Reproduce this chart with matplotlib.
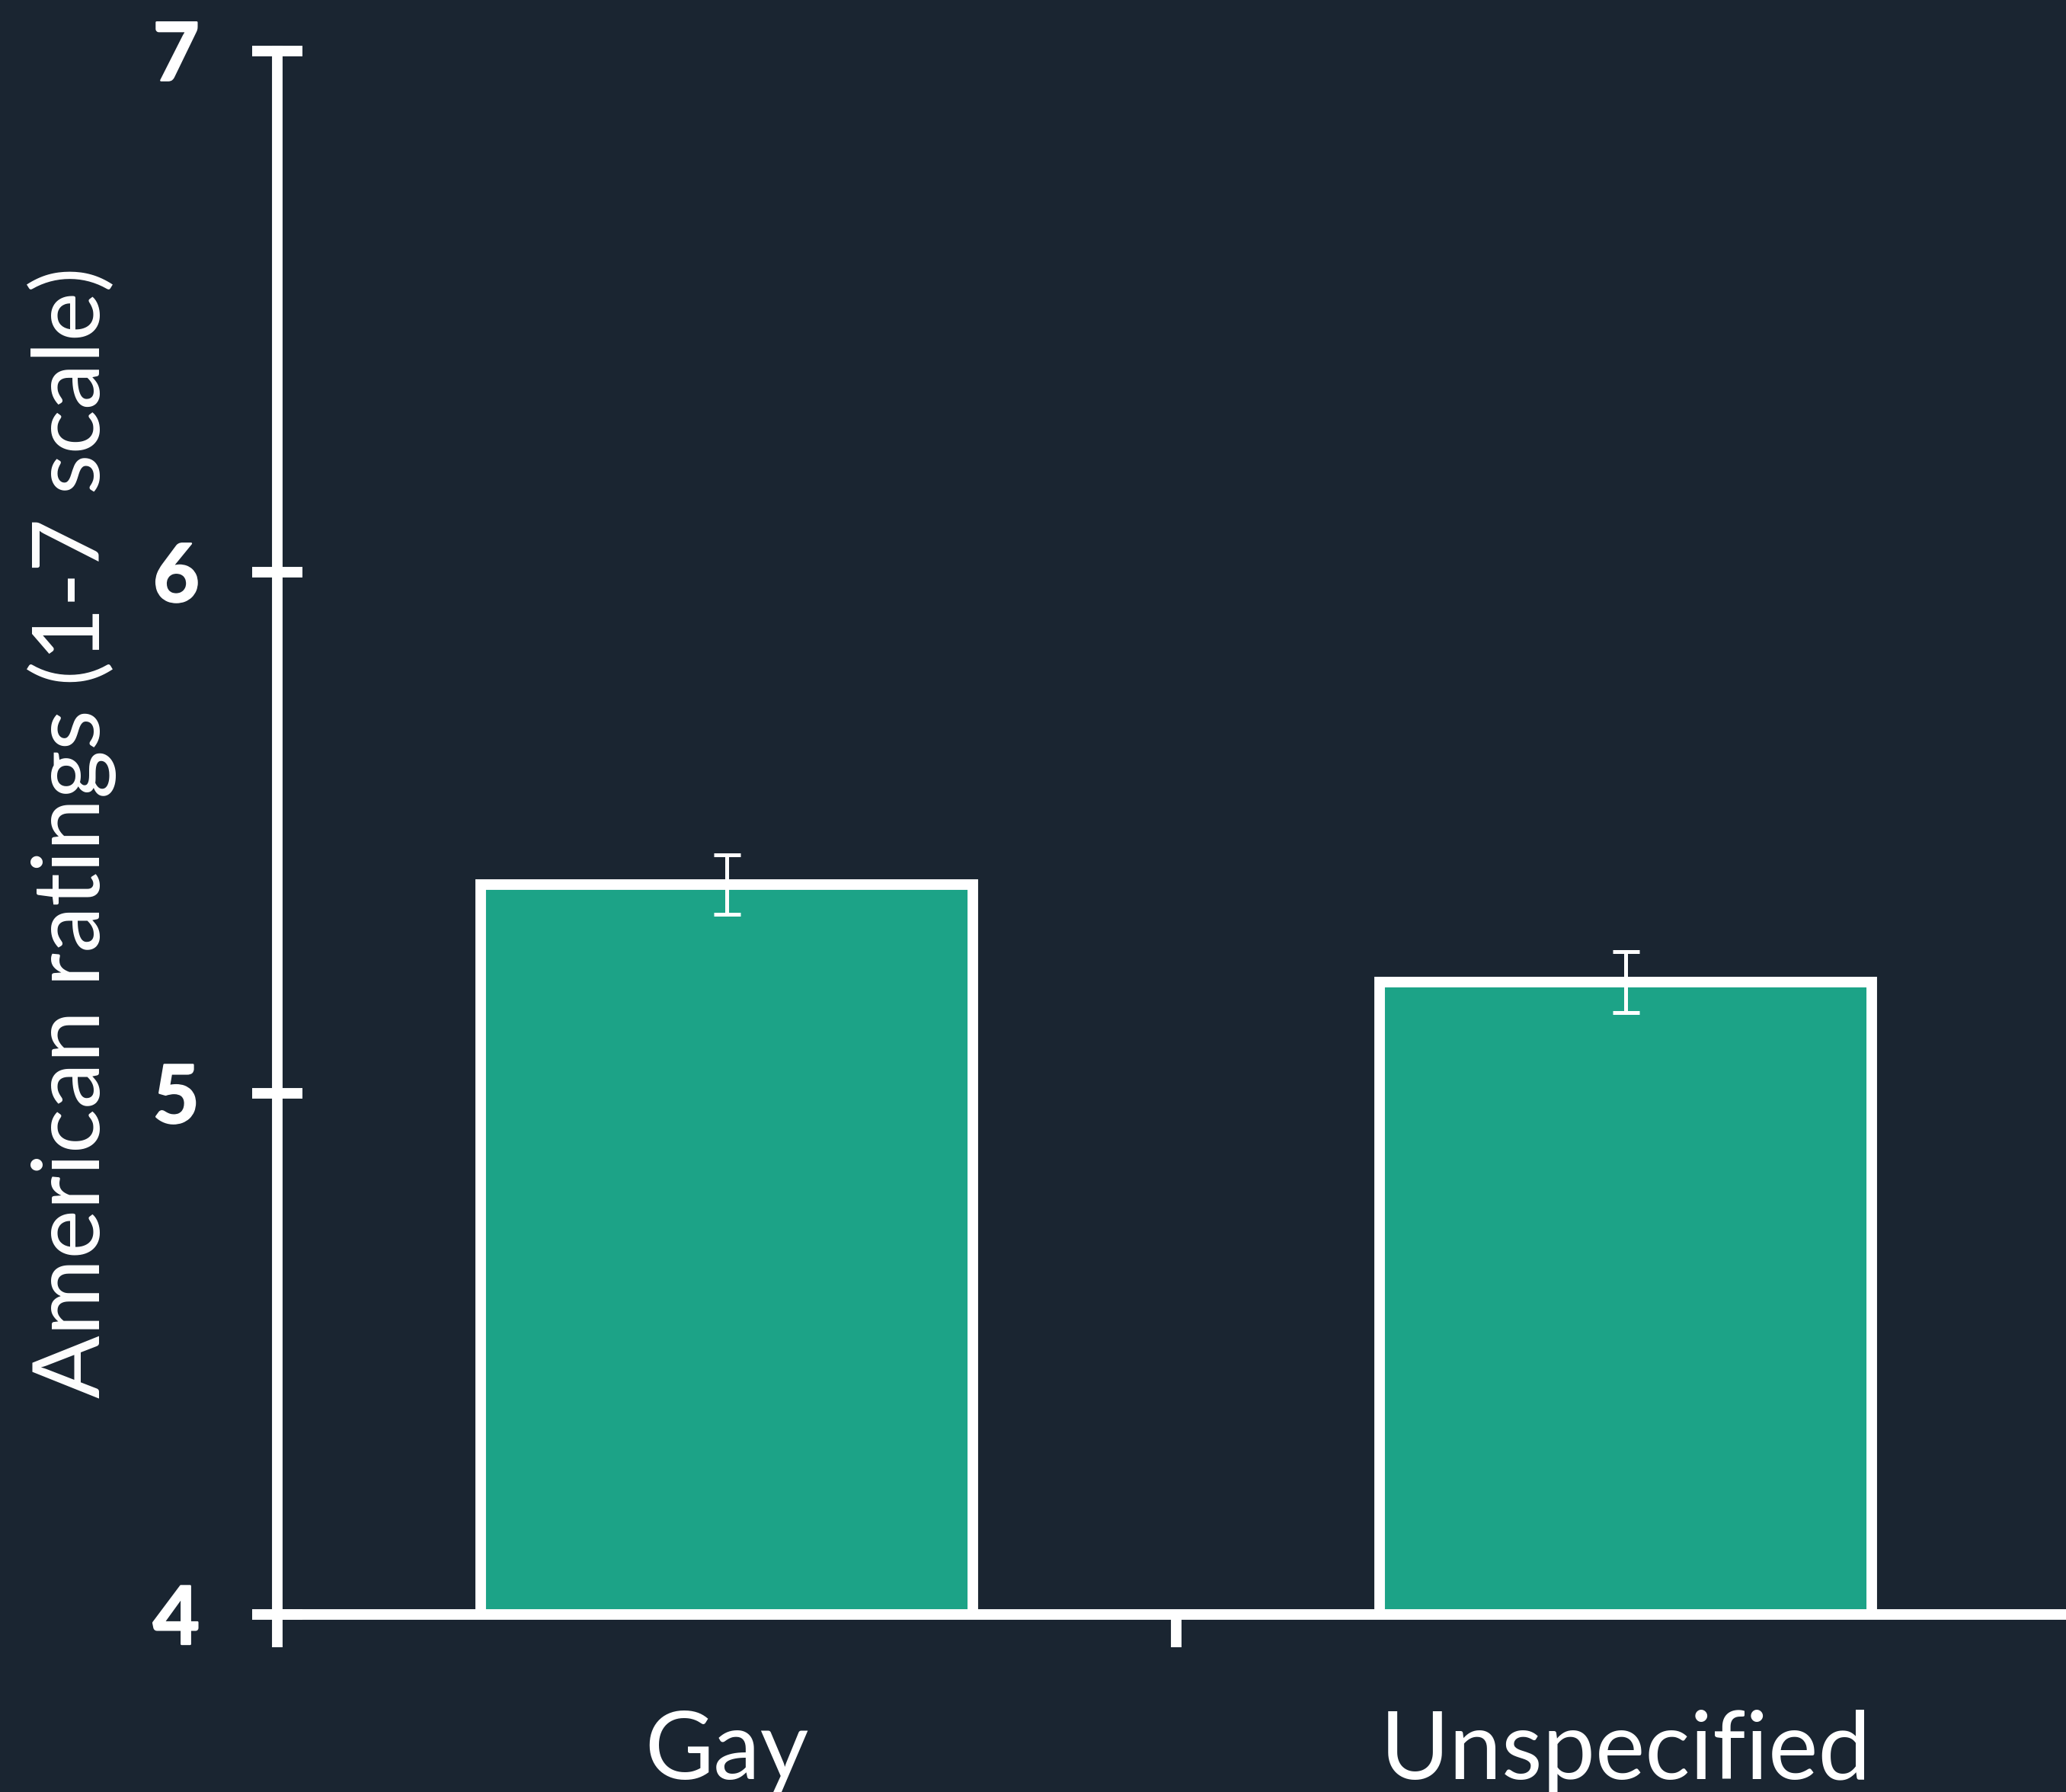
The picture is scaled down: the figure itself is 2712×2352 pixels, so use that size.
import matplotlib
matplotlib.use("Agg")
import matplotlib.pyplot as plt
import matplotlib.patheffects as pe
from matplotlib import font_manager
from matplotlib.ticker import FixedLocator

# Mean ratings by partner label, with standard errors
categories = ["Gay", "Unspecified"]
means = [5.40, 5.213]
errors = [0.057, 0.058]
y_ticks = [4, 5, 6, 7]
y_label = "American ratings (1-7 scale)"

BG = "#1a2531"
BAR = "#1ca387"
FG = "white"
DPI = 200


def _weight(w):
    if isinstance(w, (int, float)):
        return int(w)
    return int(font_manager.weight_dict.get(str(w).lower(), 400))


def face(families, weight, size):
    """Upright face nearest the requested weight, from the first family found."""
    for fam in families:
        cands = [f for f in font_manager.fontManager.ttflist
                 if f.name == fam and f.style == "normal"]
        if cands:
            best = min(cands, key=lambda f: abs(_weight(f.weight) - weight))
            return font_manager.FontProperties(fname=best.fname, size=size)
    return font_manager.FontProperties(family="DejaVu Sans", weight=weight,
                                       size=size)


fig = plt.figure(figsize=(2712 / DPI, 2352 / DPI), dpi=DPI, facecolor=BG)
ax = fig.add_axes([0.1342, 0.0991, 1 - 0.1342, 0.9717 - 0.0991])
ax.set_facecolor(BG)

x = list(range(len(categories)))
ax.bar(x, means, width=0.547, bottom=0, color=BAR, edgecolor=FG,
       linewidth=5.0, zorder=1)
ax.errorbar(x, means, yerr=errors, fmt="none", ecolor=FG, elinewidth=1.8,
            capsize=6.3, capthick=1.8, zorder=3)

ax.set_ylim(4, 7)
ax.set_xlim(-0.5, 1.49)

for side in ("top", "right"):
    ax.spines[side].set_visible(False)
for side in ("left", "bottom"):
    ax.spines[side].set_color(FG)
    ax.spines[side].set_linewidth(5.0)
    ax.spines[side].set_capstyle("projecting")

ax.set_yticks(y_ticks)
ax.set_yticklabels([str(t) for t in y_ticks])
ax.tick_params(axis="y", direction="inout", length=23.5, width=5.0,
               color=FG, labelcolor=FG, pad=25)

# Category boundaries get the visible ticks; names sit under the bar centres
ax.xaxis.set_major_locator(FixedLocator([-0.5, 0.5]))
ax.xaxis.set_minor_locator(FixedLocator(x))
ax.set_xticklabels([], minor=False)
ax.set_xticklabels(categories, minor=True)
ax.tick_params(axis="x", which="major", direction="out", length=15.5,
               width=5.0, color=FG)
ax.tick_params(axis="x", which="minor", length=0, pad=45, labelcolor=FG)

ax.set_ylabel(y_label, color=FG, fontproperties=face(["Lato"], 400, 44),
              labelpad=17)

# Heavy numerals on the value axis
heavy = [pe.withStroke(linewidth=0.9, foreground=FG)]
for lab in ax.get_yticklabels():
    lab.set_fontproperties(face(["Lato"], 700, 38))
    lab.set_path_effects(heavy)
for lab in ax.get_xticklabels(minor=True):
    lab.set_fontproperties(face(["Lato"], 400, 44.5))

fig.savefig("out.png", dpi=DPI, facecolor=BG)
